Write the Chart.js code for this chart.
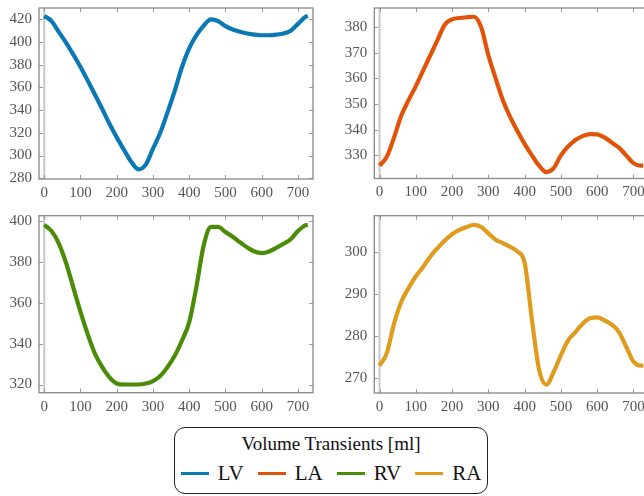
<!DOCTYPE html>
<html>
<head>
<meta charset="utf-8">
<script src="https://cdn.jsdelivr.net/npm/chart.js@4"></script>
<style>
  html, body { margin: 0; padding: 0; background: #fff; }
  body { width: 644px; height: 496px; overflow: hidden; position: relative; font-family: "Liberation Serif", serif; }
  .panel { position: absolute; }
  #legend {
    position: absolute; left: 174px; top: 427px; width: 314px; height: 67px;
    border: 1px solid #222; border-radius: 11px; box-sizing: border-box; text-align: center;
  }
  #legend .title { font-size: 19px; margin-top: 4px; line-height: 23px; color: #111; }
  #legend .items { display: flex; justify-content: center; align-items: center; margin-top: 6px; }
  #legend .item { display: flex; align-items: center; margin: 0 7px; font-size: 21px; line-height: 24px; color: #111; }
  #legend .swatch { width: 28px; height: 3px; margin-right: 9px; }
</style>
</head>
<body>
<canvas id="c0" class="panel"></canvas>
<canvas id="c1" class="panel"></canvas>
<canvas id="c2" class="panel"></canvas>
<canvas id="c3" class="panel"></canvas>
<div id="legend"><div class="title">Volume Transients [ml]</div><div class="items" id="legendItems"></div></div>
<script>
// time axis (ms) shared by all four curves
const xs = [0, 20, 40, 60, 80, 100, 120, 140, 160, 180, 200, 220, 240, 260, 280, 300, 320, 340, 360,
  380, 400, 420, 440, 460, 480, 500, 520, 540, 560, 580, 600, 620, 640, 660, 680, 700, 720, 727];

const lv = [423, 418.5, 409, 399.5, 389, 378, 366, 353.5, 341, 328, 316, 305, 294.5, 287.8, 292, 306, 320, 338, 357,
  378, 394.5, 406, 414.5, 420, 418.5, 414, 411, 409, 407.5, 406.5, 406, 406, 406.5, 407.5, 410, 416, 422, 423];
const la = [326, 329.5, 337, 345.5, 351.5, 357, 363, 369, 375, 381, 383, 383.5, 383.8, 384, 380, 369, 360, 351.5, 345,
  339.5, 334.5, 330, 326, 323.5, 325, 330, 333.5, 336, 337.5, 338.3, 338.2, 337, 335, 333, 330, 327, 326, 326];
const rv = [398, 395, 389, 379.5, 367.5, 355.5, 344.5, 335, 328.5, 323.5, 320.5, 320, 320, 320, 320.5, 321.7, 324.2, 328.5, 334,
  341.5, 350.5, 368, 388, 397, 397, 394.5, 392.2, 389.5, 387, 385, 384.2, 385, 386.8, 388.8, 391, 395, 397.8, 398];
const ra = [273, 276, 283, 288.2, 291.5, 294.3, 296.5, 299, 301, 302.8, 304.3, 305.3, 306, 306.5, 306, 304.5, 303, 302.2, 301.3,
  300.2, 297.5, 284, 272, 268.5, 271.5, 275.5, 279, 281, 283, 284.3, 284.5, 283.8, 282.8, 281, 277.5, 274, 273, 273];

const names = ['LV', 'LA', 'RV', 'RA'];
const colors = ['#0a78b2', '#e2530a', '#4a8c08', '#e09a1c'];
const series = [lv, la, rv, ra];
const yMins = [279.3, 321, 316, 266.5];
const yMaxs = [430, 387.4, 402.5, 308.7];
const ySteps = [20, 10, 20, 10];

// panel geometry: [left, top, width, height, yAxisWidth, xAxisHeight, padTop, padRight]
const panels = [
  [0, 0, 322, 207, 39, 28, 8, 9],
  [322, 0, 330, 207, 52.3, 28.5, 8, 3.5],
  [0, 207, 322, 213, 39, 27.3, 8.7, 9],
  [322, 207, 330, 213, 52.3, 27, 8.7, 3.5],
];

// frame, x=0 line, inward ticks and serif tick labels (taken from the chart's own scales)
const frame = {
  id: 'frame',
  beforeDatasetsDraw(chart) {
    const { ctx, chartArea: a, scales } = chart;
    ctx.save();
    const x0 = scales.x.getPixelForValue(0);
    ctx.strokeStyle = '#c8c8c8';
    ctx.lineWidth = 2;
    ctx.beginPath(); ctx.moveTo(x0, a.top); ctx.lineTo(x0, a.bottom); ctx.stroke();
    ctx.strokeStyle = '#999';
    ctx.lineWidth = 1;
    ctx.beginPath();
    scales.x.ticks.forEach(t => {
      const px = Math.round(scales.x.getPixelForValue(t.value)) + 0.5;
      ctx.moveTo(px, a.bottom); ctx.lineTo(px, a.bottom - 4);
      ctx.moveTo(px, a.top); ctx.lineTo(px, a.top + 4);
    });
    scales.y.ticks.forEach(t => {
      const py = Math.round(scales.y.getPixelForValue(t.value)) + 0.5;
      ctx.moveTo(a.left, py); ctx.lineTo(a.left + 4, py);
      ctx.moveTo(a.right, py); ctx.lineTo(a.right - 4, py);
    });
    ctx.stroke();
    ctx.restore();
  },
  afterDatasetsDraw(chart) {
    const { ctx, chartArea: a, scales } = chart;
    ctx.save();
    ctx.strokeStyle = '#888';
    ctx.lineWidth = 1.3;
    ctx.strokeRect(a.left, a.top, a.right - a.left, a.bottom - a.top);

    ctx.font = '15px "Liberation Serif"';
    ctx.fillStyle = '#555';
    ctx.textBaseline = 'middle';
    ctx.textAlign = 'center';
    scales.x.ticks.forEach(t => {
      ctx.fillText(String(t.value), scales.x.getPixelForValue(t.value), a.bottom + 14);
    });
    ctx.textAlign = 'right';
    scales.y.ticks.forEach(t => {
      ctx.fillText(String(t.value), a.left - 7, scales.y.getPixelForValue(t.value));
    });
    ctx.restore();
  }
};

function makePanel(i) {
  const [left, top, w, h, yw, xh, padTop, padRight] = panels[i];
  const canvas = document.getElementById('c' + i);
  canvas.style.left = left + 'px';
  canvas.style.top = top + 'px';
  canvas.width = w; canvas.height = h;
  canvas.style.width = w + 'px'; canvas.style.height = h + 'px';
  return new Chart(canvas, {
    type: 'line',
    data: {
      datasets: [{
        label: names[i],
        data: xs.map((x, k) => ({ x, y: series[i][k] })),
        borderColor: colors[i],
        borderWidth: 4.2,
        pointRadius: 0,
        cubicInterpolationMode: 'monotone',
        fill: false,
      }]
    },
    options: {
      responsive: false,
      animation: false,
      clip: false,
      layout: { autoPadding: false, padding: { top: padTop, right: padRight, left: 0, bottom: 0 } },
      plugins: { legend: { display: false }, tooltip: { enabled: false } },
      scales: {
        x: {
          type: 'linear', min: -14.5, max: 741.5,
          grid: { display: false, drawTicks: false },
          border: { display: false },
          ticks: { stepSize: 100, includeBounds: false, display: false },
          afterFit: s => { s.height = xh; s.paddingLeft = 0; s.paddingRight = 0; }
        },
        y: {
          min: yMins[i], max: yMaxs[i],
          grid: { display: false, drawTicks: false },
          border: { display: false },
          ticks: { stepSize: ySteps[i], includeBounds: false, display: false },
          afterFit: s => { s.width = yw; s.paddingTop = 0; s.paddingBottom = 0; }
        }
      }
    },
    plugins: [frame]
  });
}

for (let i = 0; i < 4; i++) makePanel(i);

const legendItems = document.getElementById('legendItems');
legendItems.innerHTML = names.map((n, i) =>
  `<div class="item"><span class="swatch" style="background:${colors[i]}"></span>${n}</div>`).join('');
</script>
</body>
</html>
